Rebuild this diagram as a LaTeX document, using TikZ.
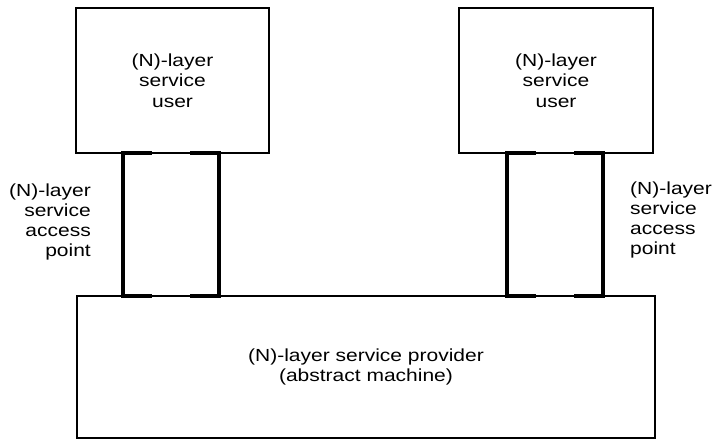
\documentclass[tikz,border=0pt]{standalone}
\usepackage{fontspec}
\setmainfont{Liberation Sans}[FakeStretch=1.2]

\begin{document}
\begin{tikzpicture}[x=1pt,y=-1pt,
  box/.style={draw,line width=1.5pt,inner sep=0pt,align=center,font=\fontsize{17.5}{20.5}\selectfont},
  sap/.style={inner sep=0pt,minimum width=96pt,minimum height=143pt},
  sapside/.style={line width=4pt,line cap=rect},
  lbl/.style={inner sep=0pt,font=\fontsize{17.5}{19.7}\selectfont}]
 \useasboundingbox (0,0) rectangle (715,440);
 \node[box,minimum width=193pt,minimum height=145pt] (userL) at (172.5,80.5) {(N)-layer\\service\\user};
 \node[box,minimum width=194pt,minimum height=145pt] (userR) at (556,80.5) {(N)-layer\\service\\user};
 \node[box,minimum width=578pt,minimum height=142pt] (prov) at (366,367) {(N)-layer service provider\\(abstract machine)};
 \node[sap] (sapL) at (171,224.5) {};
 \node[sap] (sapR) at (555,224.5) {};
 \foreach \s in {sapL,sapR}{
  \draw[sapside] (\s.north west) -- (\s.south west);
  \draw[sapside] (\s.north east) -- (\s.south east);
  \draw[sapside] (\s.north west) -- ++(27,0);
  \draw[sapside] (\s.north east) -- ++(-27,0);
  \draw[sapside] (\s.south west) -- ++(27,0);
  \draw[sapside] (\s.south east) -- ++(-27,0);
 }
 \node[lbl,anchor=east,align=right] (sapLtext) at (91,222) {(N)-layer\\service\\access\\point};
 \node[lbl,anchor=west,align=left] (sapRtext) at (630,220) {(N)-layer\\service\\access\\point};
\end{tikzpicture}
\end{document}
